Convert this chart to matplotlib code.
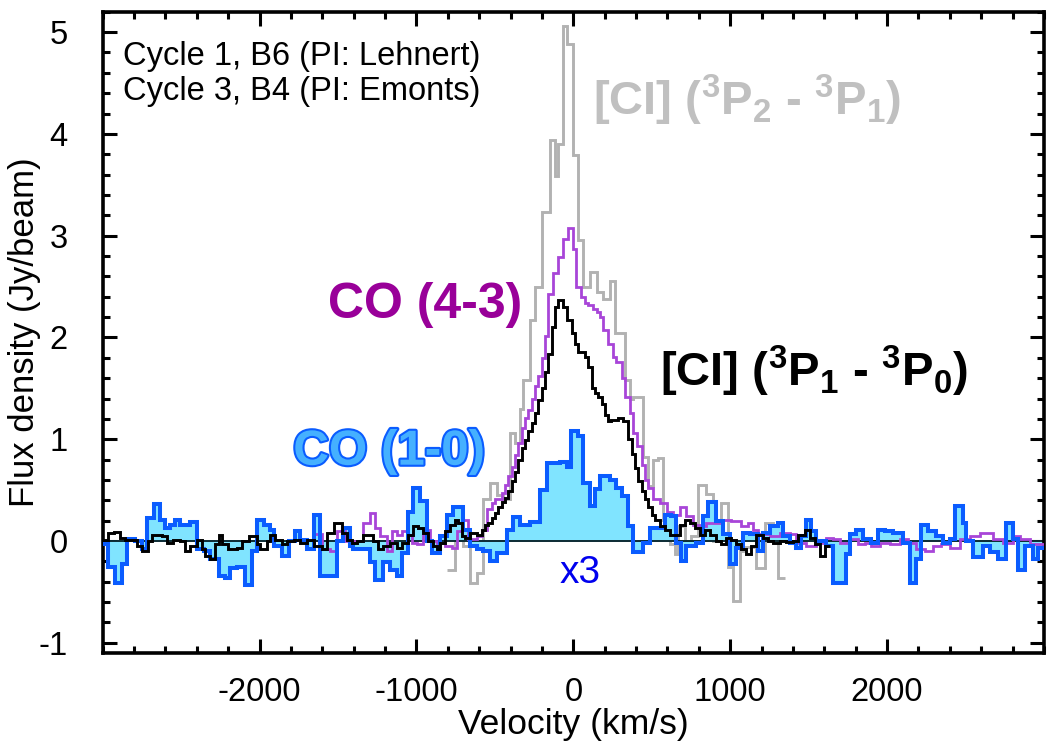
import numpy as np
import matplotlib
matplotlib.use("Agg")
import matplotlib.pyplot as plt
import matplotlib.patheffects as pe
from matplotlib.ticker import MultipleLocator, FixedLocator

plt.rcParams['font.family'] = ['Liberation Sans', 'DejaVu Sans']
plt.rcParams['axes.unicode_minus'] = False
plt.rcParams['mathtext.fontset'] = 'custom'
plt.rcParams['mathtext.rm'] = 'Liberation Sans'
plt.rcParams['mathtext.bf'] = 'Liberation Sans:bold'

# CO(1-0), already multiplied by 3 (channel edges in km/s, flux in Jy/beam)
co10_edges = [-3000, -2963, -2920, -2878, -2846, -2793, -2751, -2719, -2676, -2634,
              -2602, -2570, -2538, -2506, -2442, -2400, -2357, -2315, -2261, -2219,
              -2187, -2144, -2091, -2049, -2017, -1974, -1932, -1910, -1857, -1815,
              -1772, -1741, -1698, -1656, -1613, -1508, -1466, -1423, -1402, -1296,
              -1264, -1211, -1169, -1126, -1094, -1052, -1020, -978, -935, -903,
              -850, -808, -765, -701, -659, -616, -574, -532, -489, -425,
              -383, -340, -277, -213, -171, -86, -43, -12, 31, 62,
              105, 137, 169, 232, 275, 307, 349, 381, 445, 487,
              583, 625, 657, 689, 721, 785, 827, 859, 912, 954,
              997, 1039, 1081, 1124, 1177, 1209, 1251, 1305, 1336, 1379,
              1422, 1453, 1485, 1517, 1549, 1613, 1655, 1740, 1761, 1804,
              1846, 1899, 1942, 1984, 2037, 2101, 2143, 2186, 2218, 2260,
              2313, 2356, 2398, 2430, 2483, 2504, 2547, 2611, 2653, 2706,
              2759, 2802, 2834, 2877, 2930, 2962, 3000]
co10_x3 = [-0.03, -0.25, -0.41, -0.23, 0.02, 0.00, -0.08, 0.23, 0.36, 0.21,
           0.13, 0.16, 0.21, 0.16, 0.19, -0.08, -0.10, -0.18, -0.34, -0.36,
           -0.26, -0.25, -0.43, -0.10, 0.21, 0.16, 0.11, -0.05, -0.15, 0.00,
           0.10, 0.01, -0.08, 0.26, -0.34, 0.00, 0.13, -0.05, -0.08, -0.21,
           -0.38, -0.21, -0.28, -0.34, -0.12, 0.29, 0.52, 0.39, 0.00, -0.12,
           0.05, 0.26, 0.33, 0.11, -0.05, -0.08, -0.10, -0.20, -0.12, 0.11,
           0.24, 0.16, 0.19, 0.50, 0.77, 0.78, 0.73, 1.08, 1.03, 0.57,
           0.34, 0.51, 0.64, 0.60, 0.52, 0.44, 0.15, -0.11, -0.02, 0.13,
           0.26, 0.25, -0.02, -0.20, -0.05, -0.02, 0.25, 0.38, 0.20, 0.07,
           -0.23, -0.07, 0.08, 0.07, -0.10, 0.08, 0.15, 0.18, 0.05, -0.02,
           -0.07, 0.05, 0.21, 0.10, 0.00, -0.05, -0.41, -0.13, 0.07, 0.11,
           0.02, -0.02, 0.11, 0.10, 0.08, -0.02, -0.41, -0.18, 0.16, 0.10,
           0.05, -0.02, 0.02, 0.34, 0.18, 0.00, -0.16, -0.05, -0.11, -0.18,
           0.18, 0.02, -0.28, -0.05, -0.18, -0.07]

# [CI](1-0)
ci10_edges = [-3000, -2963, -2931, -2888, -2857, -2783, -2751, -2708, -2687, -2623,
              -2591, -2549, -2506, -2474, -2442, -2400, -2368, -2347, -2315, -2283,
              -2261, -2240, -2198, -2144, -2113, -2070, -2017, -1996, -1953, -1932,
              -1900, -1857, -1826, -1783, -1741, -1698, -1656, -1603, -1571, -1528,
              -1477, -1445, -1413, -1381, -1338, -1275, -1243, -1211, -1169, -1126,
              -1094, -1052, -1020, -988, -956, -925, -893, -871, -850, -818,
              -786, -754, -733, -712, -691, -659, -617, -585, -564, -542,
              -521, -500, -478, -457, -436, -415, -393, -372, -351, -329,
              -308, -287, -266, -244, -223, -202, -181, -159, -138, -117,
              -96, -64, -43, -11, 10, 31, 74, 95, 116, 137,
              158, 180, 201, 222, 243, 286, 318, 350, 371, 392,
              414, 435, 456, 477, 499, 520, 552, 584, 616, 680,
              710, 742, 774, 806, 838, 869, 912, 944, 976, 1008,
              1039, 1071, 1103, 1135, 1167, 1209, 1241, 1273, 1315, 1357,
              1400, 1432, 1474, 1506, 1538, 1570, 1602, 1634]
ci10_flux = [0.01, 0.08, 0.09, 0.03, 0.01, -0.05, -0.10, 0.00, 0.06, 0.05,
             -0.02, 0.01, 0.00, -0.10, -0.05, 0.01, -0.08, -0.15, -0.18, -0.03,
             0.06, -0.03, -0.08, -0.07, 0.00, 0.05, -0.03, -0.08, 0.00, 0.06,
             0.01, -0.03, 0.00, 0.01, -0.02, 0.01, -0.05, -0.08, 0.08, 0.18,
             0.08, 0.01, -0.02, 0.00, 0.06, 0.00, -0.08, -0.05, -0.02, -0.07,
             -0.02, 0.06, 0.15, 0.13, 0.08, 0.00, -0.05, -0.08, -0.02, 0.10,
             0.16, 0.21, 0.18, 0.05, 0.03, 0.08, 0.06, 0.11, 0.16, 0.18,
             0.23, 0.28, 0.33, 0.38, 0.42, 0.49, 0.59, 0.68, 0.80, 0.91,
             0.99, 1.08, 1.16, 1.26, 1.39, 1.50, 1.66, 1.84, 2.10, 2.30,
             2.37, 2.30, 2.17, 2.04, 1.94, 1.86, 1.81, 1.71, 1.50, 1.45,
             1.42, 1.35, 1.24, 1.18, 1.19, 1.21, 1.18, 1.00, 0.86, 0.72,
             0.59, 0.49, 0.41, 0.33, 0.26, 0.21, 0.15, 0.11, 0.06, 0.16,
             0.21, 0.18, 0.13, 0.06, 0.11, 0.06, 0.00, -0.03, 0.03, 0.01,
             -0.03, -0.08, -0.13, -0.05, 0.06, 0.03, 0.00, -0.02, 0.00, -0.01,
             0.00, 0.06, 0.11, 0.03, -0.03, -0.15, -0.05]

# CO(4-3)
co43_edges = [-1660, -1604, -1551, -1508, -1455, -1338, -1296, -1264, -1232, -1190,
              -1158, -1126, -1094, -1062, -1030, -999, -956, -914, -871, -818,
              -776, -744, -712, -670, -617, -585, -553, -521, -500, -457,
              -436, -415, -393, -372, -351, -329, -308, -287, -266, -244,
              -223, -202, -181, -159, -128, -96, -64, -32, 0, 20,
              52, 74, 95, 127, 148, 169, 190, 222, 254, 275,
              307, 329, 360, 382, 403, 435, 456, 477, 509, 552,
              594, 636, 679, 721, 763, 806, 848, 891, 954, 1007,
              1071, 1113, 1145, 1177, 1251, 1315, 1379, 1422, 1485, 1549,
              1613, 1655, 1698, 1761, 1814, 1857, 1899, 1952, 2016, 2080,
              2133, 2186, 2239, 2292, 2345, 2398, 2462, 2526, 2590, 2674,
              2738, 2802, 2844, 2908, 3000]
co43_flux = [0.07, -0.08, -0.10, 0.10, 0.00, 0.18, 0.28, 0.13, 0.05, -0.10,
             0.10, 0.06, 0.10, 0.06, -0.02, -0.03, 0.11, 0.00, -0.02, -0.05,
             -0.07, 0.10, 0.21, 0.02, 0.05, 0.11, 0.31, 0.37, 0.41, 0.47,
             0.55, 0.64, 0.73, 0.85, 0.96, 1.11, 1.21, 1.29, 1.40, 1.52,
             1.62, 1.80, 2.01, 2.43, 2.63, 2.79, 2.97, 3.08, 2.87, 2.50,
             2.40, 2.34, 2.32, 2.28, 2.25, 2.20, 2.07, 1.94, 1.81, 1.76,
             1.60, 1.42, 1.26, 1.06, 0.93, 0.75, 0.60, 0.52, 0.41, 0.37,
             0.29, 0.26, 0.33, 0.25, 0.16, 0.15, 0.18, 0.18, 0.21, 0.20,
             0.15, 0.18, 0.11, 0.07, 0.05, 0.08, 0.07, -0.02, -0.05, -0.02,
             0.03, 0.02, -0.02, 0.02, -0.03, -0.02, -0.05, -0.02, -0.03, 0.02,
             -0.02, -0.08, -0.10, -0.05, -0.03, -0.07, 0.02, 0.05, 0.08, 0.02,
             -0.02, 0.05, 0.02, -0.03]

# [CI](2-1)
ci21_edges = [-808, -755, -733, -701, -659, -616, -574, -532, -489, -447,
              -404, -372, -340, -320, -277, -245, -202, -149, -117, -96,
              -64, -43, 0, 32, 64, 106, 148, 190, 233, 265,
              329, 361, 382, 446, 477, 509, 541, 573, 616, 647,
              668, 710, 752, 795, 848, 891, 944, 986, 1018, 1061,
              1103, 1167, 1220, 1273, 1305, 1350]
ci21_flux = [-0.28, 0.13, 0.05, -0.05, -0.41, -0.31, 0.41, 0.57, 0.45, 0.41,
             1.06, 0.96, 1.30, 1.58, 2.17, 2.50, 3.23, 3.94, 3.59, 3.90,
             5.06, 4.88, 3.79, 2.96, 2.50, 2.64, 2.45, 2.38, 2.55, 2.04,
             1.58, 1.40, 1.42, 0.83, 0.54, 0.80, 0.82, 0.21, -0.03, -0.13,
             0.15, -0.05, 0.05, 0.55, 0.46, 0.00, 0.37, -0.25, -0.59, -0.10,
             -0.06, -0.26, 0.18, 0.16, -0.36]

blue_line = '#0a5cff'
blue_fill = '#80e4ff'
purple = '#a845d8'
grey = '#b2b2b2'

fig = plt.figure(figsize=(10.52, 7.47), dpi=100)
ax = fig.add_axes([0.0976, 0.1258, 0.8948, 0.8585])

ax.stairs(ci21_flux, ci21_edges, baseline=None, color=grey, lw=2.1, zorder=1)
ax.stairs(co10_x3, co10_edges, baseline=0, fill=True, color=blue_fill, lw=0, zorder=2)
ax.axhline(0, color='#0b2a33', lw=1.4, zorder=2.5)
ax.stairs(co43_flux, co43_edges, baseline=None, color=purple, lw=2.0, zorder=3)
ax.stairs(co10_x3, co10_edges, baseline=None, color=blue_line, lw=2.9, zorder=4)
ax.stairs(ci10_flux, ci10_edges, baseline=None, color='black', lw=2.1, zorder=5)

ax.set_xlim(-3000, 3000)
ax.set_ylim(-1.1, 5.2)
ax.xaxis.set_major_locator(FixedLocator([-2000, -1000, 0, 1000, 2000]))
ax.xaxis.set_minor_locator(MultipleLocator(200))
ax.yaxis.set_major_locator(MultipleLocator(1))
ax.yaxis.set_minor_locator(MultipleLocator(0.2))
ax.tick_params(which='both', direction='in', top=True, right=True, width=2.2,
               labelsize=23.5)
ax.tick_params(axis='x', which='major', pad=17)
ax.tick_params(axis='y', which='major', pad=25)
ax.tick_params(which='major', length=10)
ax.tick_params(which='minor', length=5)
for s in ax.spines.values():
    s.set_linewidth(2.6)

ax.set_xlabel('Velocity (km/s)', fontsize=25.5, labelpad=0)
ax.set_ylabel('Flux density (Jy/beam)', fontsize=25)
ax.yaxis.set_label_coords(-0.066, 0.5)

ax.text(0.022, 0.917, 'Cycle 1, B6 (PI: Lehnert)', transform=ax.transAxes,
        fontsize=23.5, va='baseline')
ax.text(0.022, 0.862, 'Cycle 3, B4 (PI: Emonts)', transform=ax.transAxes,
        fontsize=23.5, va='baseline')

ax.text(-1564, 2.19, 'CO (4-3)', color='#990099', fontsize=36,
        fontweight='bold', va='baseline')
ax.text(-1785, 0.75, 'CO (1-0)', color='#45b0ff', fontsize=35.5,
        fontweight='bold', va='baseline',
        path_effects=[pe.withStroke(linewidth=3, foreground=blue_line)])
ax.text(124, 4.18, r'[CI] ($\mathbf{{}^{3}P_{2}}$ - $\mathbf{{}^{3}P_{1}}$)',
        color='#c0c0c0', fontsize=34, fontweight='bold', va='baseline')
ax.text(551, 1.52, r'[CI] ($\mathbf{{}^{3}P_{1}}$ - $\mathbf{{}^{3}P_{0}}$)',
        color='black', fontsize=34, fontweight='bold', va='baseline')
ax.text(-86, -0.41, 'x3', color='#0000ee', fontsize=28, va='baseline')

fig.savefig('out.png', dpi=100)
